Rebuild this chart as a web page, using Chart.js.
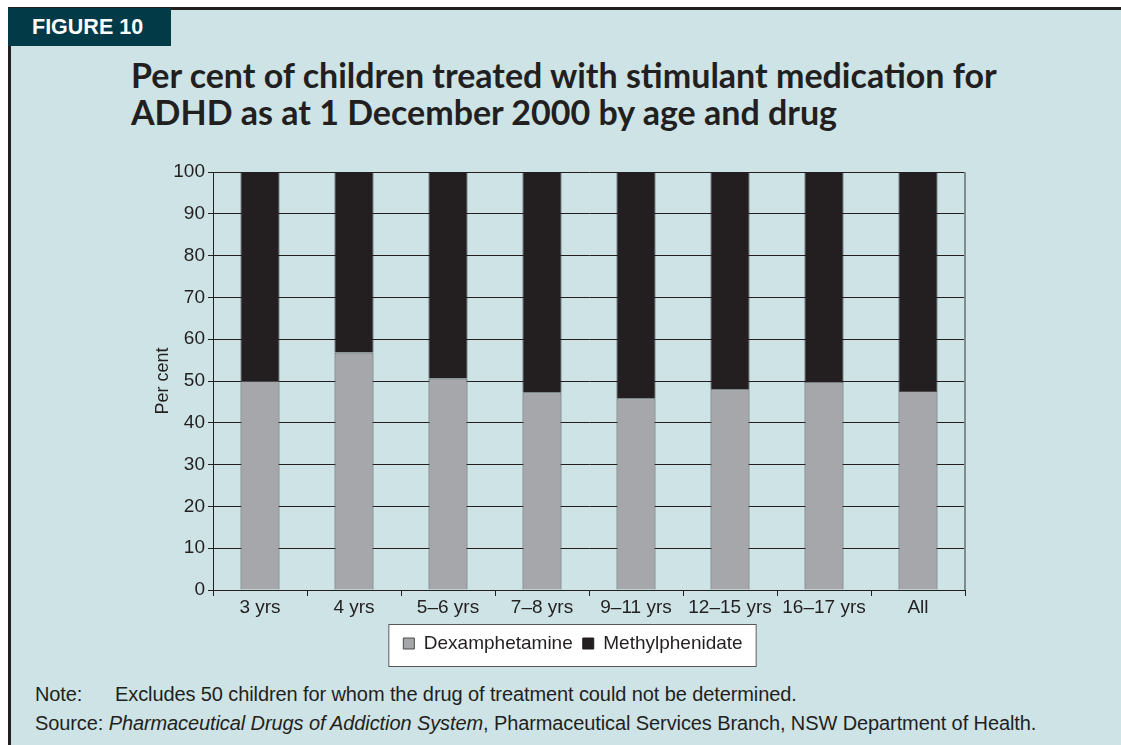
<!DOCTYPE html>
<html>
<head>
<meta charset="utf-8">
<script src="https://cdn.jsdelivr.net/npm/chart.js@4"></script>
<style>
  html, body { margin: 0; padding: 0; background: #fff; }
  body { width: 1121px; height: 745px; position: relative; overflow: hidden; font-family: "Liberation Sans", Arial, sans-serif; }
  .panel { position: absolute; left: 8px; top: 7px; width: 1130px; height: 760px; background: #cde3e6;
           border-top: 3px solid #231f20; border-left: 3px solid #231f20; box-sizing: border-box; }
  .tab { position: absolute; left: 8px; top: 8px; width: 163px; height: 38px; background: #023a47;
         color: #fff; font: bold 21.5px "Liberation Sans", Arial, sans-serif; line-height: 39px; padding-left: 24px; box-sizing: border-box; }
  .title { position: absolute; left: 131px; top: 56px; font: bold 34px Lato, "Open Sans", sans-serif; color: #231f20; line-height: 37px; }
  .notes { position: absolute; left: 35px; top: 680px; font-size: 20px; color: #231f20; line-height: 29px; letter-spacing: -0.1px; }
  .notes span.k { display: inline-block; width: 80px; }
  #wrap { position: absolute; left: 140px; top: 150px; width: 866px; height: 530px; }
</style>
</head>
<body>
<div class="panel"></div>
<div class="tab">FIGURE 10</div>
<div class="title">Per cent of children treated with stimulant medication for<br>ADHD as at 1 December 2000 by age and drug</div>
<div id="wrap"><canvas id="chart"></canvas></div>
<div class="notes">
  <div><span class="k">Note:</span>Excludes 50 children for whom the drug of treatment could not be determined.</div>
  <div>Source: <i>Pharmaceutical Drugs of Addiction System</i>, Pharmaceutical Services Branch, NSW Department of Health.</div>
</div>
<script>
const AGES   = ['3 yrs', '4 yrs', '5–6 yrs', '7–8 yrs', '9–11 yrs', '12–15 yrs', '16–17 yrs', 'All'];
const DEXAMP = [50, 56.8, 50.6, 47.3, 45.9, 48, 49.8, 47.6];
const METHYL = [50, 43.2, 49.4, 52.7, 54.1, 52, 50.2, 52.4];
const Y_TICKS = [0, 10, 20, 30, 40, 50, 60, 70, 80, 90, 100];

const INK = '#231f20';
const FONT = '"Liberation Sans", Arial';

// white legend box + right plot border
const frame = {
    id: 'frame',
    beforeDraw(chart) {
        const lg = chart.legend;
        if (!lg || !lg.legendHitBoxes.length) return;
        const hb = lg.legendHitBoxes;
        const l = Math.min(...hb.map(h => h.left)) - 15;
        const r = Math.max(...hb.map(h => h.left + h.width)) + 14;
        const t = hb[0].top - 10, b = hb[0].top + hb[0].height + 14;
        const ctx = chart.ctx;
        ctx.save();
        ctx.fillStyle = '#fff';
        ctx.fillRect(l, t, r - l, b - t);
        ctx.strokeStyle = '#555';
        ctx.lineWidth = 1;
        ctx.strokeRect(l + 0.5, t + 0.5, r - l - 1, b - t - 1);
        ctx.restore();
    },
    afterDraw(chart) {
        const a = chart.chartArea, ctx = chart.ctx;
        ctx.save();
        ctx.strokeStyle = '#7f8c8e';
        ctx.lineWidth = 2;
        ctx.beginPath();
        ctx.moveTo(a.right, a.top);
        ctx.lineTo(a.right, a.bottom);
        ctx.stroke();
        ctx.restore();
    }
};

new Chart(document.getElementById('chart'), {
    type: 'bar',
    data: {
        labels: AGES,
        datasets: [
            { label: 'Dexamphetamine', data: DEXAMP, backgroundColor: '#a6a7aa', borderColor: '#4a4a4a', borderWidth: 1,
              categoryPercentage: 1, barPercentage: 0.415 },
            { label: 'Methylphenidate', data: METHYL, backgroundColor: INK, borderColor: INK, borderWidth: 1,
              categoryPercentage: 1, barPercentage: 0.415 }
        ]
    },
    options: {
        responsive: true,
        maintainAspectRatio: false,
        animation: false,
        layout: { padding: { top: 22, right: 0, left: 0, bottom: 17 } },
        plugins: {
            legend: {
                position: 'bottom',
                labels: { boxWidth: 11, boxHeight: 11, padding: 10, color: INK,
                          font: { family: FONT, size: 19 } }
            },
            tooltip: { enabled: false }
        },
        scales: {
            x: {
                stacked: true,
                grid: { display: true, drawOnChartArea: false, color: INK, tickLength: 6, offset: true },
                border: { color: INK, width: 1 },
                ticks: { color: INK, padding: 0, font: { family: FONT, size: 19 }, maxRotation: 0, autoSkip: false },
                afterFit: s => { s.height = 34; }
            },
            y: {
                stacked: true,
                min: 0, max: 100,
                afterBuildTicks: s => { s.ticks = Y_TICKS.map(v => ({ value: v })); },
                grid: { color: INK, lineWidth: 1, tickLength: 5 },
                border: { color: INK, width: 1 },
                ticks: { color: INK, padding: 3, font: { family: FONT, size: 19 } },
                title: { display: true, text: 'Per cent', color: INK, padding: { top: 12, bottom: 0 },
                         font: { family: FONT, size: 18 } },
                afterFit: s => { s.width = 73; }
            },
            // empty right-hand spacer so the legend centres on the whole figure
            yRight: {
                position: 'right',
                min: 0, max: 100,
                grid: { display: false },
                border: { display: false },
                ticks: { display: false },
                afterFit: s => { s.width = 41; }
            }
        }
    },
    plugins: [frame]
});
</script>
</body>
</html>
